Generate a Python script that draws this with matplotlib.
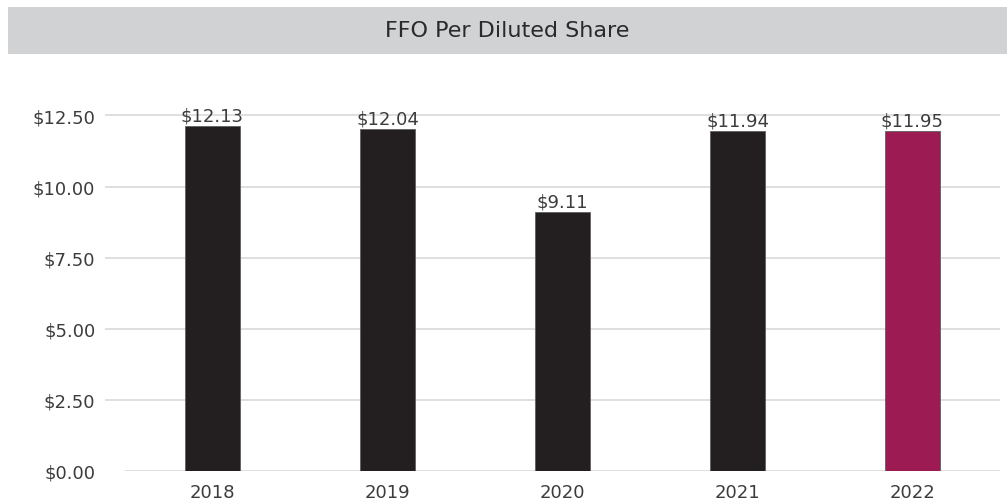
import matplotlib
matplotlib.use("Agg")
import matplotlib.pyplot as plt
from matplotlib.patches import Rectangle

years = ["2018", "2019", "2020", "2021", "2022"]
ffo = [12.13, 12.04, 9.11, 11.94, 11.95]
value_labels = ["$12.13", "$12.04", "$9.11", "$11.94", "$11.95"]
ytick_vals = [0, 2.5, 5.0, 7.5, 10.0, 12.5]
ytick_labels = ["$0.00", "$2.50", "$5.00", "$7.50", "$10.00", "$12.50"]
title = "FFO Per Diluted Share"

bar_colors = ["#231f20", "#231f20", "#231f20", "#231f20", "#9b1b52"]
text_color = "#3c3c3c"
grid_color = "#dcdcdc"

plt.rcParams['font.family'] = ['DejaVu Sans']

W, H = 1007, 502
fig = plt.figure(figsize=(W / 100, H / 100), dpi=100)

# title band
fig.patches.append(Rectangle((8 / W, 1 - 55 / H), 1 - 8 / W, 47 / H,
                             transform=fig.transFigure, facecolor="#d1d2d4",
                             edgecolor="none", zorder=0))
fig.text((8 + W) / 2 / W, 1 - 31.5 / H, title, ha="center", va="center",
         fontsize=16, color="#2a2a2a")

ax = fig.add_axes([125 / W, 30 / H, 875 / W, (472 - 88) / H])
x = list(range(len(years)))
ax.bar(x, ffo, width=0.314, color=bar_colors, edgecolor="#606060",
       linewidth=0.6, zorder=3)
for xi, v, lab in zip(x, ffo, value_labels):
    ax.annotate(lab, (xi, v), xytext=(0, 1), textcoords="offset points",
                ha="center", va="bottom", fontsize=13, color=text_color,
                zorder=4)

ax.set_xlim(-0.5, 4.5)
ax.set_ylim(0, 13.5)
ax.set_yticks(ytick_vals)
ax.set_yticklabels(ytick_labels)
ax.set_xticks(x)
ax.set_xticklabels(years)
ax.yaxis.grid(True, color=grid_color, linewidth=1.3, zorder=0)
ax.set_axisbelow(True)
for s in ax.spines.values():
    s.set_visible(False)
ax.tick_params(axis="y", length=14.4, width=1.3, color=grid_color, pad=7,
               labelsize=13, labelcolor=text_color)
ax.tick_params(axis="x", length=0, pad=8.5, labelsize=13,
               labelcolor=text_color)
# zero tick shorter (baseline starts at axes edge)
ax.yaxis.get_major_ticks()[0].tick1line.set_visible(False)

fig.savefig("out.png", dpi=100)
